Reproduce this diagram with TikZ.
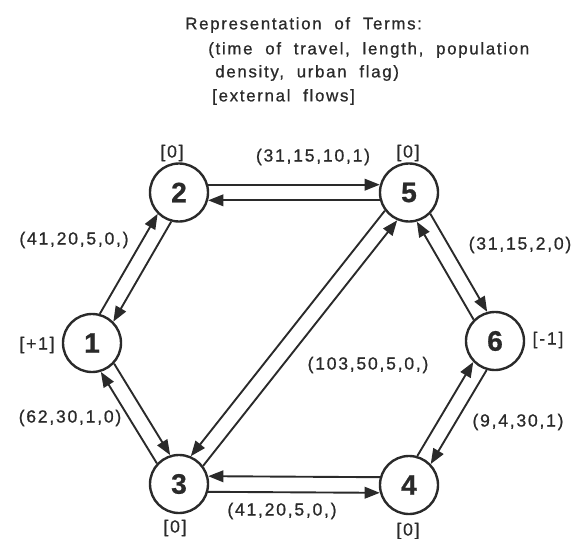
\documentclass[tikz,border=0pt]{standalone}
\usepackage{fontspec}
\setmainfont{Liberation Sans}
\newfontfamily\termfont[LetterSpace=10, FakeBold=0.8]{Liberation Sans}
\usetikzlibrary{arrows.meta, positioning}
\definecolor{inkGray}{HTML}{2A2A2A}
\tikzset{
  junction/.style={
    draw=inkGray, circle, line width=1.7pt, minimum size=1.45cm, inner sep=0pt,
    font=\termfont\fontsize{20}{20}\selectfont\bfseries, text=inkGray
  },
  flow/.style={-{Triangle[length=3.8mm, width=2.9mm]}, line width=1.35pt, inkGray},
  tag/.style={font=\termfont\fontsize{12.5}{14}\selectfont, text=inkGray, inner sep=1pt},
  legend/.style={font=\termfont\fontsize{12}{14}\selectfont, text=inkGray, anchor=west, inner sep=0pt}
}
\begin{document}
\begin{tikzpicture}[x=0.025cm, y=-0.025cm]
  \useasboundingbox (0,0) rectangle (579,539);

  % legend
  \node[legend] (title)  at (185,25) {Representation\ \ of\ \ Terms:};
  \node[legend] (terms1) at (208,50) {(time\ \ of\ \ travel,\ \ length,\ \ population};
  \node[legend] (terms2) at (215,73) {density,\ \ urban\ \ flag)};
  \node[legend] (flows)  at (212,97) {[external\ \ flows]};

  % junctions
  \node[junction] (n1) at (92,343)    {1};
  \node[junction] (n2) at (179,192.5) {2};
  \node[junction] (n5) at (409,192.5) {5};
  \node[junction] (n6) at (495,341)   {6};
  \node[junction] (n4) at (409,485)   {4};
  \node[junction] (n3) at (179,484)   {3};

  % external flows
  \node[tag] (x2) at (172,153) {[0]};
  \node[tag] (x5) at (408,153) {[0]};
  \node[tag] (x1) at (37,345)  {[+1]};
  \node[tag] (x6) at (548,340) {[-1]};
  \node[tag] (x3) at (175,528) {[0]};
  \node[tag] (x4) at (408,531) {[0]};

  % links, one arrow each way
  \draw[flow] (n1.75)  -- (n2.225);
  \draw[flow] (n2.255) -- (n1.45);
  \draw[flow] (n1.317) -- (n3.107);
  \draw[flow] (n3.137) -- (n1.287);
  \draw[flow] (n2.15)  -- (n5.165);
  \draw[flow] (n5.195) -- (n2.345);
  \draw[flow] (n3.345) -- (n4.195);
  \draw[flow] (n4.165) -- (n3.15);
  \draw[flow] (n3.37)  -- (n5.247);
  \draw[flow] (n5.217) -- (n3.67);
  \draw[flow] (n5.315) -- (n6.105);
  \draw[flow] (n6.135) -- (n5.285);
  \draw[flow] (n4.74)  -- (n6.224);
  \draw[flow] (n6.254) -- (n4.44);

  % link terms
  \node[tag] (t25) at (313,157) {(31,15,10,1)};
  \node[tag] (t12) at (74,240)  {(41,20,5,0,)};
  \node[tag] (t56) at (520,245) {(31,15,2,0)};
  \node[tag] (t13) at (70,418)  {(62,30,1,0)};
  \node[tag] (t35) at (368,365) {(103,50,5,0,)};
  \node[tag] (t46) at (518,422) {(9,4,30,1)};
  \node[tag] (t34) at (282,511) {(41,20,5,0,)};
\end{tikzpicture}
\end{document}
